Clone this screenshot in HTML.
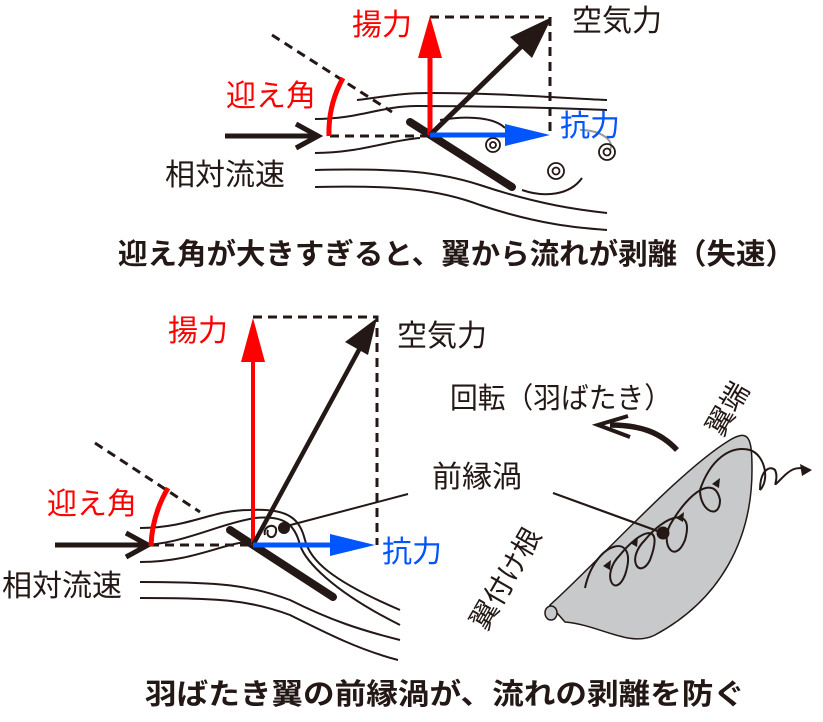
<!DOCTYPE html>
<html><head><meta charset="utf-8"><style>
html,body{margin:0;padding:0;background:#fff}
svg{display:block}
text{font-family:"Liberation Sans","Noto Sans CJK JP",sans-serif}
</style></head><body>
<svg width="823" height="722" viewBox="0 0 823 722" xmlns="http://www.w3.org/2000/svg">
<g fill="none" stroke="#231815" stroke-width="2">
<path d="M357,100 C390,96 400,93 430,93 C500,93 560,98 607,100"/>
<path d="M315,119 C360,119 380,106 417,106 C480,106 560,108 607,110"/>
<path d="M315,153 C360,153 390,140 420,138"/>
<path d="M315,170 C400,168 440,172 480,185 C540,205 580,210 607,213"/>
<path d="M315,187 C400,185 440,190 480,205 C540,225 580,228 607,230"/>
<path d="M440,120 C470,115 495,118 505,128"/>
<path d="M522,190 C545,198 570,195 582,178"/>
<path d="M580,130 C600,130 615,140 610,150" stroke="#999"/>
</g>
<g fill="none" stroke="#231815" stroke-width="1.8">
<circle cx="493" cy="145" r="7"/><circle cx="493" cy="145" r="3"/>
<circle cx="607" cy="152" r="8"/><circle cx="607" cy="152" r="3.5"/>
<circle cx="556" cy="171" r="8"/><circle cx="556" cy="171" r="3.5"/>
</g>
<g stroke="#231815" stroke-width="3" stroke-dasharray="9,6" fill="none">
<path d="M430,17 H550 V135"/>
<path d="M330,136 H430"/>
<path d="M272,35 L392,112"/>
</g>
<path d="M410,122 L512,187" stroke="#231815" stroke-width="8" stroke-linecap="round"/>
<path d="M225,136 H318 M296,124 L318,136 L296,148" stroke="#231815" stroke-width="5" fill="none"/>
<path d="M343,78 Q328,105 329,136" stroke="#f00" stroke-width="5" fill="none"/>
<path d="M430,135 V50" stroke="#f00" stroke-width="5"/>
<polygon points="430,16 418,58 442,58" fill="#f00"/>
<path d="M430,135 L530,38" stroke="#231815" stroke-width="5"/>
<polygon points="552,17 510,37 532,58" fill="#231815"/>
<path d="M430,135 H510" stroke="#0055ff" stroke-width="5"/>
<polygon points="550,135 505,124 505,146" fill="#0055ff"/>
<text x="352" y="35" font-size="30" fill="#f00">揚力</text>
<text x="572" y="31" font-size="30" fill="#231815">空気力</text>
<text x="226" y="106" font-size="30" fill="#f00">迎え角</text>
<text x="560" y="136" font-size="30" fill="#0055ff">抗力</text>
<text x="165" y="185" font-size="30" fill="#231815">相対流速</text>
<text x="118" y="264" font-size="29" font-weight="bold" fill="#231815" textLength="677" lengthAdjust="spacingAndGlyphs">迎え角が大きすぎると、翼から流れが剥離（失速）</text>

<g fill="none" stroke="#231815" stroke-width="2">
<path d="M140,528 C190,528 210,510 250,510 C290,508 300,520 305,540 C310,560 330,580 400,610"/>
<path d="M140,545 C180,545 215,525 255,518 C285,515 295,525 300,545 C305,560 330,590 400,625"/>
<path d="M140,562 C190,562 220,545 245,542"/>
<path d="M140,582 C220,582 250,585 290,600 C330,620 360,630 400,640"/>
<path d="M140,598 C220,598 250,600 290,615 C330,635 360,650 398,660"/>
<path d="M283,527 L408,494"/>
<path d="M265,535 C262,525 278,522 276,532 C275,540 265,538 268,530"/>
</g>
<circle cx="284" cy="528" r="6" fill="#231815"/>
<g stroke="#231815" stroke-width="3" stroke-dasharray="9,6" fill="none">
<path d="M253,317 H377 V545"/>
<path d="M150,545 H253"/>
<path d="M95,443 L200,512"/>
</g>
<path d="M230,530 L333,597" stroke="#231815" stroke-width="8" stroke-linecap="round"/>
<path d="M55,545 H148 M126,533 L148,545 L126,557" stroke="#231815" stroke-width="5" fill="none"/>
<path d="M168,488 Q152,515 151,546" stroke="#f00" stroke-width="5" fill="none"/>
<path d="M253,545 V355" stroke="#f00" stroke-width="4"/>
<polygon points="253,318 241,362 265,362" fill="#f00"/>
<path d="M253,545 L360,348" stroke="#231815" stroke-width="4.5"/>
<polygon points="377,318 345,342 368,355" fill="#231815"/>
<path d="M253,545 H335" stroke="#0055ff" stroke-width="5"/>
<polygon points="375,545 330,534 330,556" fill="#0055ff"/>
<text x="168" y="341" font-size="30" fill="#f00">揚力</text>
<text x="397" y="346" font-size="30" fill="#231815">空気力</text>
<text x="47" y="514" font-size="30" fill="#f00">迎え角</text>
<text x="382" y="562" font-size="30" fill="#0055ff">抗力</text>
<text x="2" y="596" font-size="30" fill="#231815">相対流速</text>
<text x="432" y="487" font-size="30" fill="#231815">前縁渦</text>
<text x="450" y="408" font-size="29" fill="#231815" textLength="222" lengthAdjust="spacingAndGlyphs">回転（羽ばたき）</text>

<path d="M550,605 C600,560 680,470 730,440 C750,428 752,440 752,470 C752,540 720,600 655,635 C630,648 600,625 565,622 Z" fill="#c8c9ca" stroke="#231815" stroke-width="1.5"/>
<ellipse cx="551" cy="613" rx="6" ry="7" fill="#c8c9ca" stroke="#231815" stroke-width="1.5"/>
<g fill="none" stroke="#231815" stroke-width="2">
<path d="M585,588 C595,540 640,530 625,575 C615,600 600,575 620,555 C640,530 665,520 650,560 C640,580 625,560 645,540 C665,515 695,505 685,540 C675,565 660,545 670,525 C690,490 715,475 720,500 C720,520 700,512 700,490 C710,460 730,445 750,450 C765,455 770,480 760,490"/>
<path d="M760,490 C760,470 770,465 775,470 C780,480 770,490 780,480 C790,470 795,465 810,470"/>
</g>
<polygon points="812,470 800,464 802,476" fill="#231815"/>
<g fill="#231815">
<polygon points="611,560 603,566 610,570"/>
<polygon points="638,537 630,543 637,547"/>
<polygon points="684,512 676,518 683,522"/>
<polygon points="720,478 712,484 719,488"/>
</g>
<circle cx="663" cy="533" r="6.5" fill="#231815"/>
<path d="M553,493 L663,533" stroke="#231815" stroke-width="2.2"/>
<path d="M677,450 C660,432 640,425 610,425" stroke="#231815" stroke-width="5.5" fill="none"/>
<path d="M628,416 L598,425 L630,437" stroke="#231815" stroke-width="4" fill="none"/>
<text transform="translate(722,438) rotate(-60)" font-size="28" fill="#231815">翼端</text>
<text transform="translate(486,632) rotate(-60)" font-size="28" fill="#231815">翼付け根</text>
<text x="145" y="704" font-size="29" font-weight="bold" fill="#231815" textLength="600" lengthAdjust="spacingAndGlyphs">羽ばたき翼の前縁渦が、流れの剥離を防ぐ</text>
</svg>
</body></html>
